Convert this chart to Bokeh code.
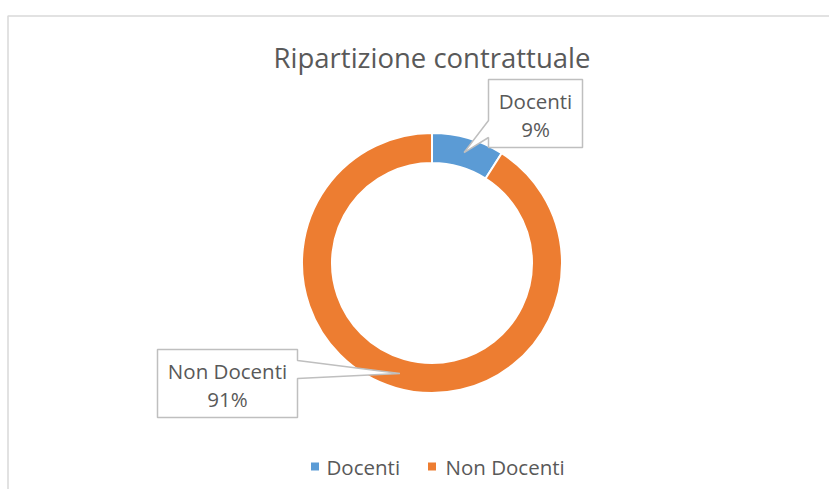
import math
from bokeh.plotting import figure
from bokeh.models import Range1d, ColumnDataSource
from bokeh.core.properties import value
from bokeh.embed import file_html
from bokeh.resources import INLINE

# ---- data ----
categories = ["Docenti", "Non Docenti"]
values = [9, 91]
labels = ["9%", "91%"]
colors = ["#5B9BD5", "#ED7D31"]
title_text = "Ripartizione contrattuale"

W, H = 829, 489
FONT = "Open Sans"
TXT = "#595959"

def X(px):
    return px

def Y(py):
    return H - py

p = figure(width=W, height=H, output_backend="svg", toolbar_location=None,
           x_range=Range1d(0, W), y_range=Range1d(0, H),
           x_axis_type=None, y_axis_type=None, min_border=0,
           outline_line_color=None, background_fill_color="white",
           border_fill_color="white")
p.grid.visible = False

# chart-area border
p.line(x=[X(7.5), X(7.5), W], y=[0, Y(15.5), Y(15.5)], line_color="#d9d9d9", line_width=1.5)

# donut
cx, cy = X(431.5), Y(262.5)
total = sum(values)
starts, ends, mids = [], [], []
a = 90.0
for v in values:
    sweep = 360.0 * v / total
    starts.append(math.radians(a))
    ends.append(math.radians(a - sweep))
    mids.append(math.radians(a - sweep / 2))
    a -= sweep
src = ColumnDataSource(dict(x=[cx] * len(values), y=[cy] * len(values),
                            start=starts, end=ends, color=colors, cat=categories))
p.annular_wedge(x="x", y="y", inner_radius=100, outer_radius=130,
                inner_radius_units="screen", outer_radius_units="screen",
                start_angle="start", end_angle="end", direction="clock",
                fill_color="color", line_color="white", line_width=2, source=src)

# title
p.text(x=[X(431.5)], y=[Y(57)], text=[title_text], text_align="center",
       text_baseline="middle", text_font=value(FONT), text_font_size=value("27.5px"),
       text_color=TXT)

# callouts
tip_r = 115
boxes = [(488, 79, 582, 147), (157, 349, 297, 417)]
attach = [("left", 120, 137), ("right", 360, 378)]
for i, cat in enumerate(categories):
    tx = cx + tip_r * math.cos(mids[i])
    ty = cy + tip_r * math.sin(mids[i])
    x0, y0, x1, y1 = boxes[i]
    side, a0, a1 = attach[i]
    if side == "left":
        xs = [X(x0), X(x1), X(x1), X(x0), X(x0), tx, X(x0), X(x0)]
        ys = [Y(y0), Y(y0), Y(y1), Y(y1), Y(a1), ty, Y(a0), Y(y0)]
    else:
        xs = [X(x0), X(x1), X(x1), tx, X(x1), X(x1), X(x0), X(x0)]
        ys = [Y(y0), Y(y0), Y(a0), ty, Y(a1), Y(y1), Y(y1), Y(y0)]
    p.patch(x=xs, y=ys, fill_color="white", line_color="#bfbfbf", line_width=1.5)
    xc = X((x0 + x1) / 2)
    p.text(x=[xc, xc], y=[Y(y0 + 21), Y(y0 + 49)], text=[cat, labels[i]],
           text_align="center", text_baseline="middle", text_font=value(FONT),
           text_font_size=value("20.5px"), text_color=TXT)

# legend
leg_sq_x = [X(314.5), X(431.5)]
leg_tx_x = [X(326), X(445)]
p.scatter(x=leg_sq_x, y=[Y(466)] * 2, marker="square", size=8,
          fill_color=colors, line_color=None)
p.text(x=leg_tx_x, y=[Y(466)] * 2, text=categories, text_align="left",
       text_baseline="middle", text_font=value(FONT), text_font_size=value("20.5px"),
       text_color=TXT)

open("out.html", "w").write(file_html(p, INLINE))
